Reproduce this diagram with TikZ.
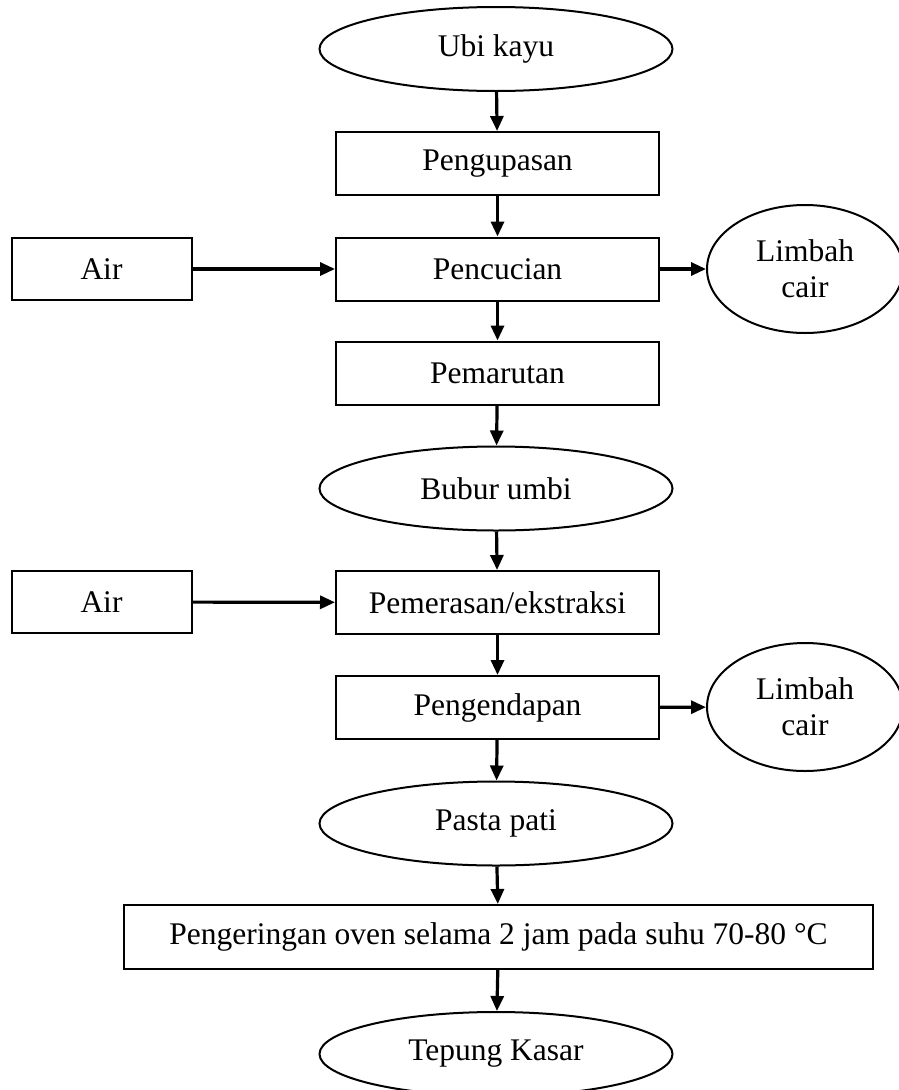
\documentclass[tikz,border=0pt]{standalone}
\usepackage{fontspec}
\setmainfont{Liberation Serif}
\usetikzlibrary{shapes.geometric,arrows.meta}
\begin{document}
\begin{tikzpicture}[x=1pt,y=-1pt,
  every node/.style={font=\fontsize{31.5}{36}\selectfont, inner sep=0pt, align=center},
  procbox/.style={draw, line width=2pt, rectangle, minimum width=323pt, minimum height=63pt},
  airbox/.style={draw, line width=2pt, rectangle, minimum width=180pt, minimum height=62pt},
  term/.style={draw, line width=2pt, ellipse, minimum width=353pt, minimum height=84pt},
  waste/.style={draw, line width=2pt, ellipse, minimum width=196pt, minimum height=128pt},
  flow/.style={line width=3.2pt, -{Triangle[length=15pt,width=13pt]}}
]
\clip (0,0) rectangle (899,1090);
\fill[white] (0,0) rectangle (899,1090);

\node[term] (ubi) at (496,49) {Ubi kayu};
\node[procbox] (kupas) at (497.5,163.5) {Pengupasan};
\node[procbox] (cuci) at (497.5,269) {Pencucian};
\node[airbox] (air1) at (101.5,269) {Air};
\node[waste] (limbah1) at (805,269) {Limbah\\cair};
\node[procbox] (parut) at (497.5,373) {Pemarutan};
\node[term] (bubur) at (496,488.5) {Bubur umbi};
\node[procbox] (peras) at (497.5,602.5) {Pemerasan/ekstraksi};
\node[airbox] (air2) at (101.5,602) {Air};
\node[procbox] (endap) at (497.5,707.5) {Pengendapan};
\node[waste] (limbah2) at (805,707) {Limbah\\cair};
\node[term] (pasta) at (496,823.5) {Pasta pati};
\node[draw, line width=2pt, rectangle, minimum width=749pt, minimum height=64pt] (kering) at (498.5,937) {Pengeringan oven selama 2 jam pada suhu 70-80 °C};
\node[term] (tepung) at (496,1054) {Tepung Kasar};

\draw[flow] (ubi) -- (kupas);
\draw[flow] (kupas) -- (cuci);
\draw[flow] (air1) -- (cuci);
\draw[flow] (cuci) -- (limbah1);
\draw[flow] (cuci) -- (parut);
\draw[flow] (parut) -- (bubur);
\draw[flow] (bubur) -- (peras);
\draw[flow] (air2) -- (peras);
\draw[flow] (peras) -- (endap);
\draw[flow] (endap) -- (limbah2);
\draw[flow] (endap) -- (pasta);
\draw[flow] (pasta) -- (kering);
\draw[flow] (kering) -- (tepung);
\end{tikzpicture}
\end{document}
